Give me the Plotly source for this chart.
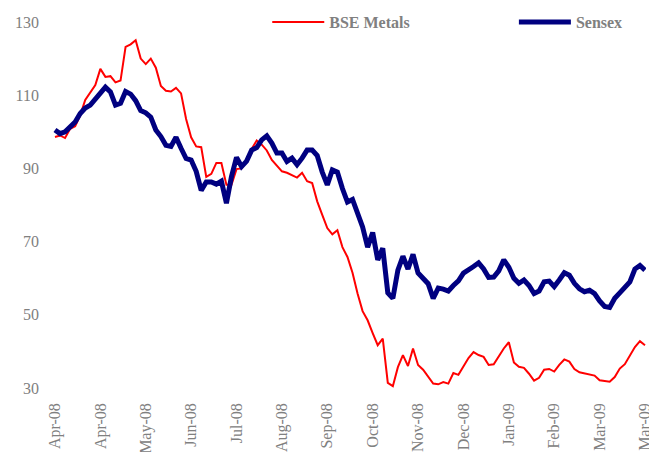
import plotly.graph_objects as go

tick_labels = ["Apr-08", "Apr-08", "May-08", "Jun-08", "Jul-08", "Aug-08", "Sep-08",
               "Oct-08", "Nov-08", "Dec-08", "Jan-09", "Feb-09", "Mar-09", "Mar-09"]

sensex = [100.5, 99.5, 100, 101.3, 102.7, 105, 106.5, 107.3, 108.8, 110.6,
          112.2, 110.9, 107.3, 107.8, 111, 110.3, 108.5, 105.8, 105.2, 104,
          100.5, 98.7, 96.3, 96, 98.5, 95.5, 92.7, 92.3, 89.2, 84,
          86.3, 86.3, 85.7, 86.5, 80.5, 87.8, 93, 90.5, 92, 95,
          95.7, 97.8, 98.9, 96.9, 94.2, 94.2, 91.9, 92.8, 91, 92.8,
          95, 95, 93.5, 89, 85.5, 89.6, 89, 84.5, 80.8, 81.5,
          77.8, 74, 68.5, 72.5, 65, 68.2, 56, 54.5, 62.2, 66,
          62.5, 66.5, 61.4, 59.7, 58.5, 54.5, 57.3, 57, 56.5, 58,
          59.3, 61.4, 62.2, 63.2, 64.2, 62.5, 60.2, 60.3, 62, 65,
          63, 60, 58.6, 59.5, 58, 55.8, 56.5, 59, 59.2, 57.7,
          59.5, 61.5, 60.8, 58.6, 57.1, 56.3, 56.7, 55.8, 53.8, 52.3,
          52, 54.5, 56, 57.3, 59, 62.5, 63.5, 62.2]

bse_metals = [98.6, 99, 98.3, 100.8, 101.5, 104.5, 108.7, 110.6, 112.8, 117.2,
              115, 115.2, 113.5, 114, 123.2, 123.9, 125, 120, 118.5, 120,
              117.5, 112.5, 111.2, 111, 112, 110.5, 103.5, 98.5, 96, 95.8,
              87.7, 88.5, 91.5, 91.5, 85.5, 85.5, 89.8, 90, 92, 95.3,
              97.6, 96.5, 94.9, 92.3, 90.7, 89.2, 88.8, 88.2, 87.5, 88.8,
              86.5, 86, 81, 77.3, 73.7, 72, 73.1, 68.5, 65.8, 61.5,
              55.8, 51, 48.5, 45, 41.7, 43.5, 31.4, 30.5, 35.7, 39,
              36, 40.8, 36.3, 35, 33, 31.2, 31, 31.6, 31.2, 34.1,
              33.6, 35.8, 38.2, 39.8, 39, 38.5, 36.3, 36.5, 38.7, 40.8,
              42.5, 37, 35.8, 35.5, 33.9, 32, 32.8, 35, 35.2, 34.5,
              36.3, 37.8, 37.2, 35.2, 34.3, 34, 33.6, 33.4, 32.1, 32,
              31.7, 33, 35.3, 36.5, 39, 41.2, 42.8, 41.7]

y_ticks = [30, 50, 70, 90, 110, 130]

n = len(sensex)
x = list(range(n))
step = (n - 1) // (len(tick_labels) - 1)
tick_pos = [i * step for i in range(len(tick_labels))]

font_family = "Liberation Serif"
gray = "#808080"
legend_font = dict(family=font_family, size=16, color=gray, weight="bold")

fig = go.Figure()
fig.add_trace(go.Scatter(x=x, y=bse_metals, mode="lines", name="BSE Metals",
                         line=dict(color="#FF0000", width=2), legend="legend"))
fig.add_trace(go.Scatter(x=x, y=sensex, mode="lines", name="Sensex",
                         line=dict(color="#000080", width=5), legend="legend2"))

fig.update_layout(
    width=649, height=452,
    margin=dict(l=40, r=3, t=22, b=64, autoexpand=False),
    paper_bgcolor="white", plot_bgcolor="white",
    showlegend=True,
    legend=dict(x=0.375, xanchor="left", y=1.0, yanchor="middle", itemwidth=52,
                font=legend_font, bgcolor="rgba(0,0,0,0)"),
    legend2=dict(x=0.782, xanchor="left", y=1.0, yanchor="middle", itemwidth=52,
                 font=legend_font, bgcolor="rgba(0,0,0,0)"),
    xaxis=dict(range=[-2.97, 117.2], tickvals=tick_pos, ticktext=tick_labels,
               tickangle=-90, showgrid=False, zeroline=False, showline=False,
               ticks="", ticklabelstandoff=11, ticklabeloverflow="allow",
               tickfont=dict(family=font_family, size=16, color=gray)),
    yaxis=dict(range=[30, 130], tickvals=y_ticks, showgrid=False, zeroline=False,
               showline=False, ticks="",
               tickfont=dict(family=font_family, size=16, color=gray)),
)

fig.write_html("out.html")
